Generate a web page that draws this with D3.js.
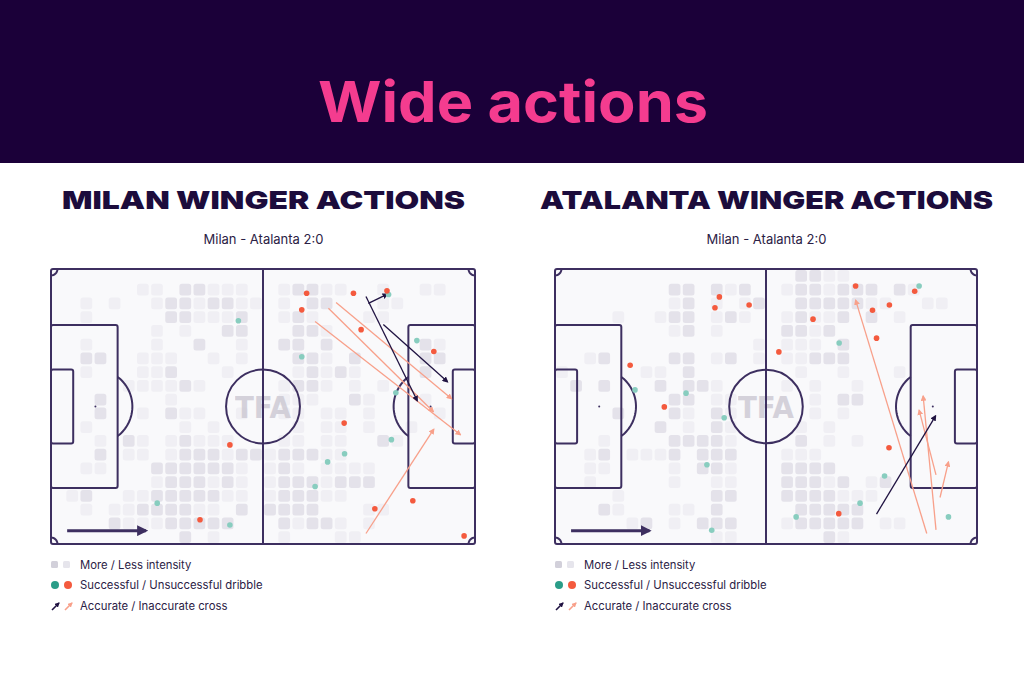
<!DOCTYPE html>
<html><head><meta charset="utf-8">
<script src="https://cdn.jsdelivr.net/npm/d3@7"></script>
<style>html,body{margin:0;padding:0;background:#fff;}svg{display:block;}</style>
</head><body>
<script>
// ---------- DATA ----------
const headerTitle = "Wide actions";
const panelTitles = ["MILAN WINGER ACTIONS", "ATALANTA WINGER ACTIONS"];
const subtitle = "Milan - Atalanta 2:0";
const legendLabels = ["More / Less intensity", "Successful / Unsuccessful dribble", "Accurate / Inaccurate cross"];

// heat grid 30 cols x 20 rows: 0 none, 1 low, 2 high
const milanHeat = [
"000000000000000000000000000000",
"000000110221110012211001001100",
"001010012212211010220001100000",
"001000002211120012100011000000",
"000000010100220002210000000000",
"001000010020010022020000002100",
"002200111001010002210200002200",
"001000112000100001212100002000",
"000001111210000012210101000000",
"000200001000000011100210001000",
"000200102110010011011010000100",
"001000000101000001011010010000",
"000102101211100011011002100000",
"000201101222122122211000000000",
"001100022222210121011110000000",
"000000012221210122212220000000",
"012001122222110122211000000000",
"001011222211020222200011000000",
"000021112222200021221010000000",
"000000000201000010001100000000"
];
const atalantaHeat = [
"000000000000000002211000000000",
"000000002202120012212220210000",
"000000001201012002222211001100",
"000010012201210012112020100000",
"000000001201000022120000000000",
"000000000000001011102000000000",
"001200002201201011222000000000",
"100000110200000001001000100000",
"020200020221000010100100000000",
"000000002201100000102200000000",
"000020002102100000101000000000",
"000000020102100001010000000000",
"000100002222100002010100000000",
"001201112022200011100000000000",
"001100001022100022220000000000",
"001000001001100022212012000000",
"000010000002200022221110000000",
"000210001102000002222200000000",
"000001201022200012222201100000",
"000000000001100000021000000000"
];

// dribbles: [x (m, 0-105), y (m, 0-68), successful?]
const milanDribbles = [
[46.4,12.8,1],[44.3,43.5,0],[26.3,57.9,1],[36.9,62.0,0],[44.3,63.3,1],
[63.3,6.0,0],[74.9,6.0,0],[83.6,6.3,1],[83.2,5.4,0],[62.1,10.1,0],[76.8,15.0,0],
[90.6,17.7,1],[94.8,20.4,0],[62.1,21.7,1],[85.4,30.6,1],[72.6,38.1,0],
[84.3,42.2,1],[72.7,45.7,1],[68.5,47.7,1],[65.4,53.8,1],[89.6,57.3,0],
[80.2,59.3,0],[102.3,66.0,0]
];
const atalantaDribbles = [
[40.9,6.9,0],[39.8,9.6,0],[48.3,8.9,0],[18.7,23.8,0],[19.9,29.9,1],
[32.6,30.7,1],[27.2,34.1,0],[42.1,36.8,1],[37.8,48.4,1],[39.0,64.6,1],
[74.8,4.2,0],[90.6,4.2,1],[89.5,5.5,0],[83.2,8.9,0],[79.0,10.2,0],
[64.2,12.4,0],[80.0,17.1,0],[70.7,18.3,1],[55.7,20.5,0],[83.1,44.2,0],
[82.0,51.2,1],[75.9,57.9,1],[70.6,60.5,0],[60.0,61.3,1],[97.9,61.3,1]
];

// crosses: [x1, y1, x2, y2, accurate?]
const milanCrosses = [
[70.6,8.3,99.2,32.1,0],[68.7,9.7,94.7,35.3,0],[65.4,13.0,101.4,41.0,0],
[78.0,65.4,94.8,39.6,0],
[78.0,6.8,90.7,32.6,1],[78.6,8.5,83.3,6.2,1],[82.3,13.7,98.2,27.9,1]
];
const atalantaCrosses = [
[92.5,65.4,74.8,7.7,0],[94.8,64.5,91.6,31.4,0],[94.8,50.9,90.6,34.9,0],
[95.8,56.5,97.9,47.7,0],
[80.0,60.6,94.7,36.3,1]
];

// ---------- DRAW ----------
const W = 1024, H = 683;
const C = {
  header:"#1b0039", pink:"#f43c8f", ink:"#1c0c3c", text:"#2b2145",
  line:"#3d2f60", pitch:"#f9f9fb", heat2:"#e4e2ea", heat1:"#f0eff4",
  teal:"#88cdbf", red:"#f45a3e", legTeal:"#2a9d88", dark:"#201342", salmon:"#f8a08a"
};
const svg = d3.select("body").append("svg").attr("width",W).attr("height",H)
  .style("font-family","Inter, 'Open Sans', sans-serif");

svg.append("rect").attr("width",W).attr("height",163).attr("fill",C.header);
svg.append("text").attr("x",513).attr("y",122).attr("text-anchor","middle")
  .attr("font-size",56).attr("font-weight",700).attr("fill",C.pink)
  .attr("textLength",390).attr("lengthAdjust","spacingAndGlyphs").text(headerTitle);

const defs = svg.append("defs");
function marker(id, color, size){
  defs.append("marker").attr("id",id).attr("viewBox","0 0 10 10").attr("refX",8).attr("refY",5)
    .attr("markerWidth",size).attr("markerHeight",size).attr("markerUnits","userSpaceOnUse")
    .attr("orient","auto").append("path").attr("d","M0,0L10,5L0,10z").attr("fill",color);
}
marker("mDark",C.dark,6); marker("mSalmon",C.salmon,6); marker("mDir",C.line,11);
marker("mLegDark",C.dark,5); marker("mLegSalmon",C.salmon,5);

const panels = [
  {x0:51, x1:475, cx:263.5, title:panelTitles[0], tl:403, heat:milanHeat, drib:milanDribbles, cross:milanCrosses},
  {x0:555, x1:977, cx:766.5, title:panelTitles[1], tl:453, heat:atalantaHeat, drib:atalantaDribbles, cross:atalantaCrosses}
];
const PY0 = 269, PY1 = 544;

panels.forEach(p => {
  const x = d3.scaleLinear().domain([0,105]).range([p.x0,p.x1]);
  const y = d3.scaleLinear().domain([0,68]).range([PY0,PY1]);
  const g = svg.append("g");

  g.append("text").attr("x",p.cx).attr("y",209).attr("text-anchor","middle")
    .attr("font-size",25).attr("font-weight",900).attr("fill",C.ink)
    .attr("textLength",p.tl).attr("lengthAdjust","spacingAndGlyphs").text(p.title);
  g.append("text").attr("x",p.cx).attr("y",244).attr("text-anchor","middle")
    .attr("font-size",13).attr("fill",C.text).text(subtitle);

  // pitch background
  g.append("rect").attr("x",x(0)).attr("y",y(0)).attr("width",x(105)-x(0)).attr("height",y(68)-y(0)).attr("fill",C.pitch);

  // heat cells
  const cx = d3.scaleLinear().domain([0,30]).range([x(0),x(105)]);
  const cy = d3.scaleLinear().domain([0,20]).range([y(0),y(68)]);
  const cells = [];
  p.heat.forEach((row,r) => row.split("").forEach((v,c) => { if (+v>0) cells.push({r,c,v:+v}); }));
  g.append("g").selectAll("rect").data(cells).join("rect")
    .attr("x",d=>cx(d.c)+1.2).attr("y",d=>cy(d.r)+1.1)
    .attr("width",d=>cx(d.c+1)-cx(d.c)-2.4).attr("height",d=>cy(d.r+1)-cy(d.r)-2.2)
    .attr("rx",2.5).attr("fill",d=>d.v===2?C.heat2:C.heat1);

  // TFA watermark
  g.append("text").attr("x",x(52.5)).attr("y",y(34)+11).attr("text-anchor","middle")
    .attr("font-size",30).attr("font-weight",900).attr("fill","#cbc8d2").attr("opacity",0.8)
    .attr("textLength",56).attr("lengthAdjust","spacingAndGlyphs").style("font-family","'DejaVu Sans', sans-serif").text("TFA");

  // pitch lines
  const L = g.append("g").attr("fill","none").attr("stroke",C.line).attr("stroke-width",2);
  const rectM = (a,b,c,d) => L.append("rect").attr("x",x(a)).attr("y",y(b)).attr("width",x(c)-x(a)).attr("height",y(d)-y(b)).attr("rx",2);
  rectM(0,0,105,68);
  L.append("line").attr("x1",x(52.5)).attr("x2",x(52.5)).attr("y1",y(0)).attr("y2",y(68));
  L.append("circle").attr("cx",x(52.5)).attr("cy",y(34)).attr("r",x(9.15)-x(0));
  rectM(0,13.84,16.5,54.16); rectM(88.5,13.84,105,54.16);
  rectM(0,24.84,5.5,43.16); rectM(99.5,24.84,105,43.16);
  const line = d3.line().x(d=>x(d[0])).y(d=>y(d[1]));
  const th = Math.acos(5.5/9.15);
  const arcPts = (cxm, sgn) => d3.range(-th, th+0.001, th/20).map(a => [cxm + sgn*9.15*Math.cos(a), 34 + 9.15*Math.sin(a)]);
  L.append("path").attr("d",line(arcPts(11,1)));
  L.append("path").attr("d",line(arcPts(94,-1)));
  const corner = (cxm, cym, a0) => d3.range(a0, a0+Math.PI/2+0.001, Math.PI/16).map(a => [cxm+1.6*Math.cos(a), cym+1.6*Math.sin(a)]);
  [[0,0,0],[105,0,Math.PI/2],[105,68,Math.PI],[0,68,1.5*Math.PI]].forEach(c => L.append("path").attr("d",line(corner(c[0],c[1],c[2]))));
  [[11,34],[94,34],[52.5,34]].forEach(s => g.append("circle").attr("cx",x(s[0])).attr("cy",y(s[1])).attr("r",1).attr("fill",C.line));

  // direction arrow
  g.append("line").attr("x1",x(4)).attr("x2",x(23.5)).attr("y1",y(64.7)).attr("y2",y(64.7))
    .attr("stroke",C.line).attr("stroke-width",3).attr("marker-end","url(#mDir)");

  // crosses
  g.append("g").selectAll("line").data(p.cross).join("line")
    .attr("x1",d=>x(d[0])).attr("y1",d=>y(d[1])).attr("x2",d=>x(d[2])).attr("y2",d=>y(d[3]))
    .attr("stroke",d=>d[4]?C.dark:C.salmon).attr("stroke-width",1.3)
    .attr("marker-end",d=>d[4]?"url(#mDark)":"url(#mSalmon)");

  // dribbles
  g.append("g").selectAll("circle").data(p.drib).join("circle")
    .attr("cx",d=>x(d[0])).attr("cy",d=>y(d[1])).attr("r",2.8)
    .attr("fill",d=>d[2]?C.teal:C.red);

  // legend
  const lx = p.x0;
  const lg = g.append("g");
  lg.append("rect").attr("x",lx).attr("y",561).attr("width",7).attr("height",7).attr("rx",1.5).attr("fill","#d2d0da");
  lg.append("rect").attr("x",lx+12).attr("y",561).attr("width",7).attr("height",7).attr("rx",1.5).attr("fill","#e6e5ec");
  lg.append("circle").attr("cx",lx+4).attr("cy",585).attr("r",4).attr("fill",C.legTeal);
  lg.append("circle").attr("cx",lx+17).attr("cy",585).attr("r",4).attr("fill",C.red);
  lg.append("line").attr("x1",lx+1).attr("y1",610).attr("x2",lx+8).attr("y2",603).attr("stroke",C.dark).attr("stroke-width",1.6).attr("marker-end","url(#mLegDark)");
  lg.append("line").attr("x1",lx+14).attr("y1",610).attr("x2",lx+21).attr("y2",603).attr("stroke",C.salmon).attr("stroke-width",1.6).attr("marker-end","url(#mLegSalmon)");
  legendLabels.forEach((t,i) => lg.append("text").attr("x",lx+29).attr("y",569+i*20.3)
    .attr("font-size",11.3).attr("fill",C.text).text(t));
});
</script>
</body></html>
